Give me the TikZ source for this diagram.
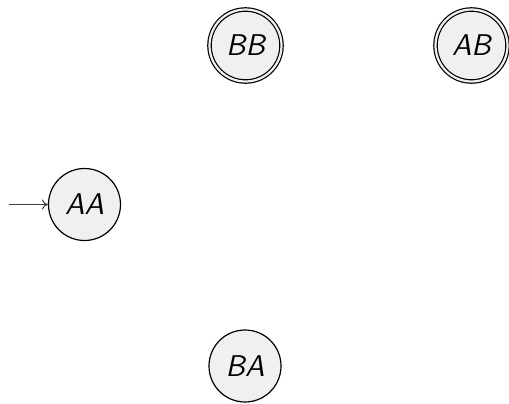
\documentclass[tikz,border=0pt]{standalone}
\usetikzlibrary{arrows.meta}
\definecolor{statefill}{HTML}{F0F0F0}
\tikzset{
  state/.style={circle, draw=black, line width=0.6pt, fill=statefill,
    minimum size=36pt, inner sep=0pt,
    font=\fontsize{15}{18}\selectfont\sffamily\itshape},
  accept/.style={state, double=statefill, double distance=1.1pt},
  startarrow/.style={-{To[length=3pt,width=5pt]}, line width=0.5pt, draw=black!75}
}
\begin{document}
\begin{tikzpicture}[x=1pt,y=1pt]
  \useasboundingbox (0,0) rectangle (254.5,201.5);
  \node[accept] (BB) at (122.75,178.75) {BB};
  \node[accept] (AB) at (235.75,178.75) {AB};
  \node[state]  (AA) at (42.25,99.25) {AA};
  \node[state]  (BA) at (122.5,18.5) {BA};
  \coordinate (start) at (4.5,99.25);
  \draw[startarrow] (start) -- (AA);
\end{tikzpicture}
\end{document}
